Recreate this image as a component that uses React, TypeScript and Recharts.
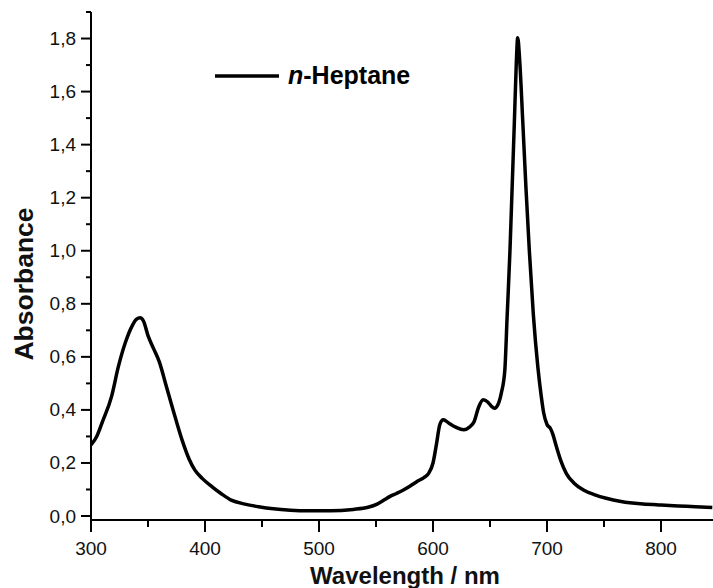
import React from 'react';
import { LineChart, Line, XAxis, YAxis } from 'recharts';

// absorption spectrum
const wavelength = [
  300, 305, 310, 318, 324, 330, 336, 340, 343, 346, 350, 355, 360, 366, 372, 380, 386, 391, 398, 406,
  414, 423, 435, 447, 460, 475, 490, 510, 530, 543, 551, 557, 562, 568, 574, 580, 586, 592, 596, 600,
  603, 606, 609, 614, 620, 627, 632, 636, 640, 644, 648, 651, 654, 657, 660, 663, 665, 667.5, 669.5, 671.4,
  673, 674.3, 676, 678.7, 681.5, 684.5, 688, 692, 695, 697, 700, 703, 705, 708, 712, 717, 724, 732, 742, 752,
  765, 782, 798, 815, 830, 845,
];
const absorbance = [
  0.268, 0.3, 0.355, 0.45, 0.563, 0.652, 0.716, 0.742, 0.747, 0.735, 0.68, 0.63, 0.58, 0.49, 0.4, 0.285, 0.215, 0.174, 0.14, 0.111,
  0.085, 0.06, 0.045, 0.035, 0.027, 0.022, 0.02, 0.02, 0.025, 0.033, 0.045, 0.06, 0.073, 0.085, 0.098, 0.113, 0.13, 0.145, 0.16, 0.2,
  0.27, 0.345, 0.363, 0.35, 0.335, 0.325, 0.335, 0.355, 0.41, 0.438, 0.43, 0.415, 0.406, 0.42, 0.465, 0.55, 0.75, 1.0, 1.25, 1.49,
  1.7, 1.803, 1.72, 1.49, 1.24, 1.0, 0.76, 0.56, 0.45, 0.39, 0.345, 0.33, 0.31, 0.265, 0.21, 0.16, 0.123, 0.098, 0.08, 0.067,
  0.055, 0.046, 0.042, 0.038, 0.035, 0.032,
];

const xTicks = [300, 350, 400, 450, 500, 550, 600, 650, 700, 750, 800];
const yTicks = [0, 0.1, 0.2, 0.3, 0.4, 0.5, 0.6, 0.7, 0.8, 0.9, 1.0, 1.1, 1.2, 1.3, 1.4, 1.5, 1.6, 1.7, 1.8, 1.9];
const seriesName = 'Heptane';

const data = wavelength.map((nm, i) => ({ nm, abs: absorbance[i] }));

const FONT = '"Liberation Sans", Arial, sans-serif';

const XTick = (props: any) => {
  const { x, y, payload } = props;
  const major = payload.value % 100 === 0;
  return (
    <g>
      <line x1={x} x2={x} y1={y} y2={y + (major ? 12 : 7)} stroke="#000" strokeWidth={2} />
      {major && (
        <text x={x} y={y + 28} textAnchor="middle" dominantBaseline="central" fontSize={19} fontFamily={FONT} fill="#111">
          {payload.value}
        </text>
      )}
    </g>
  );
};

const YTick = (props: any) => {
  const { x, y, payload } = props;
  const major = Math.round(payload.value * 10) % 2 === 0;
  return (
    <g>
      <line x1={x} x2={x - (major ? 10 : 5)} y1={y} y2={y} stroke="#000" strokeWidth={2} />
      {major && (
        <text x={x - 15} y={y} textAnchor="end" dominantBaseline="central" fontSize={19} fontFamily={FONT} fill="#111">
          {payload.value.toFixed(1).replace('.', ',')}
        </text>
      )}
    </g>
  );
};

export default function App() {
  return (
    <div style={{ position: 'absolute', left: 0, top: 0, width: 713, height: 588, background: '#fff' }}>
      <LineChart width={713} height={588} data={data} margin={{ top: 12, right: 0, left: 0, bottom: 0 }}>
        <XAxis
          dataKey="nm"
          type="number"
          domain={[300, 845.6]}
          ticks={xTicks}
          allowDataOverflow
          height={68}
          tickSize={0}
          tickMargin={0}
          tickLine={false}
          tick={<XTick />}
          axisLine={{ stroke: '#000', strokeWidth: 2 }}
          label={{
            content: () => (
              <text x={405} y={575} textAnchor="middle" dominantBaseline="central" fontSize={24} fontWeight="bold" fontFamily={FONT} fill="#111">
                Wavelength / nm
              </text>
            ),
          }}
        />
        <YAxis
          type="number"
          domain={[-0.015, 1.9]}
          ticks={yTicks}
          allowDataOverflow
          width={91}
          tickSize={0}
          tickMargin={0}
          tickLine={false}
          tick={<YTick />}
          axisLine={{ stroke: '#000', strokeWidth: 2 }}
          label={{
            content: () => (
              <text x={33} y={284} transform="rotate(-90 33 284)" textAnchor="middle" fontSize={26.5} fontWeight="bold" fontFamily={FONT} fill="#111">
                Absorbance
              </text>
            ),
          }}
        />
        <Line
          dataKey="abs"
          type="monotone"
          stroke="#000"
          strokeWidth={3.5}
          dot={false}
          isAnimationActive={false}
        />
      </LineChart>
      <div
        style={{
          position: 'absolute', left: 214, top: 61, display: 'flex', alignItems: 'center',
          fontFamily: FONT, fontWeight: 'bold', fontSize: 25, color: '#000',
        }}
      >
        <svg width={66} height={6} style={{ marginRight: 8 }}>
          <line x1={1} x2={65} y1={3} y2={3} stroke="#000" strokeWidth={3.5} />
        </svg>
        <span><i>n</i>-{seriesName}</span>
      </div>
    </div>
  );
}
